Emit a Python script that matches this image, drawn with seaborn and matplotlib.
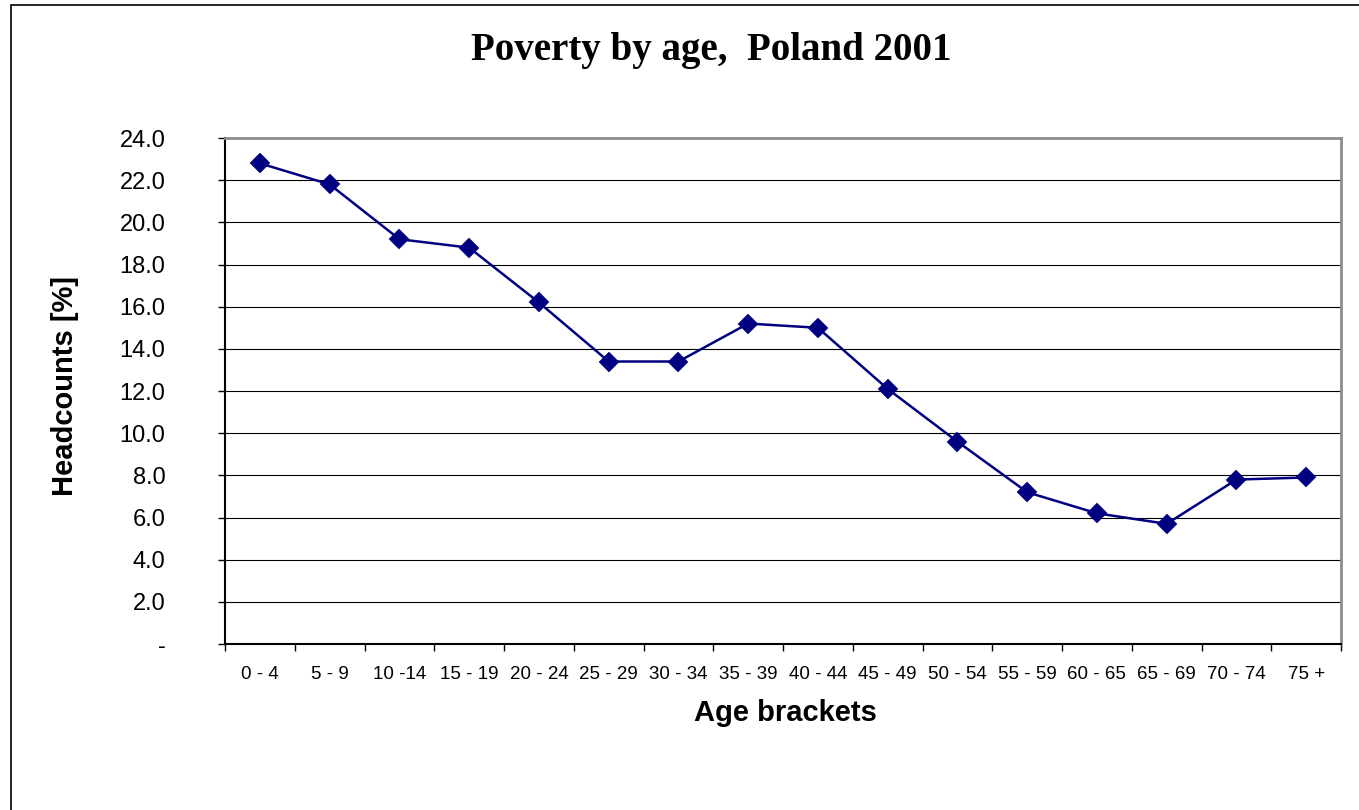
import numpy as np
import pandas as pd
import matplotlib
matplotlib.use("Agg")
import matplotlib.pyplot as plt
from matplotlib.patches import Rectangle
from matplotlib.ticker import FixedLocator
import seaborn as sns

# data
age_brackets = ["0 - 4", "5 - 9", "10 -14", "15 - 19", "20 - 24", "25 - 29",
                "30 - 34", "35 - 39", "40 - 44", "45 - 49", "50 - 54", "55 - 59",
                "60 - 65", "65 - 69", "70 - 74", "75 +"]
headcounts = [22.8, 21.8, 19.2, 18.8, 16.2, 13.4, 13.4, 15.2, 15.0, 12.1,
              9.6, 7.2, 6.2, 5.7, 7.8, 7.9]
y_ticks = [0, 2, 4, 6, 8, 10, 12, 14, 16, 18, 20, 22, 24]
y_tick_labels = ["-", "2.0", "4.0", "6.0", "8.0", "10.0", "12.0", "14.0",
                 "16.0", "18.0", "20.0", "22.0", "24.0"]

sns.set_style("white")
plt.rcParams["font.family"] = ["Liberation Sans", "DejaVu Sans"]
plt.rcParams["text.color"] = "black"
plt.rcParams["axes.labelcolor"] = "black"

df = pd.DataFrame({"age": age_brackets, "headcount": headcounts})

fig = plt.figure(figsize=(13.59, 8.10), dpi=100)
ax = fig.add_axes([0.1656, 0.2049, 0.8212, 0.6247])

sns.pointplot(data=df, x="age", y="headcount", ax=ax, color="#000080",
              markers="D", markersize=9, linewidth=1.8, errorbar=None)

ax.set_xlim(-0.5, 15.5)
ax.set_ylim(0, 24)
ax.set_yticks(y_ticks)
ax.set_yticklabels(y_tick_labels)

# horizontal gridlines only
ax.yaxis.grid(True, color="black", linewidth=0.8)
ax.xaxis.grid(False)
ax.set_axisbelow(True)

# ticks: y outward, x ticks between categories
ax.tick_params(axis="y", left=True, length=5, width=1, color="black",
               direction="out", pad=38, labelsize=17, labelcolor="black")
ax.tick_params(axis="x", which="major", bottom=True, length=0, pad=16,
               labelsize=13.5, labelcolor="black")
ax.xaxis.set_minor_locator(FixedLocator(np.arange(-0.5, 16, 1)))
ax.tick_params(axis="x", which="minor", bottom=True, length=5, width=1,
               color="black", direction="out")

for side in ["left", "bottom"]:
    ax.spines[side].set_color("black")
    ax.spines[side].set_linewidth(1.5)
for side in ["top", "right"]:
    ax.spines[side].set_color("#8c8c8c")
    ax.spines[side].set_linewidth(2)

ax.set_xlabel("Age brackets", fontsize=21, fontweight="bold", va="center")
ax.xaxis.set_label_coords(0.502, -0.136)
ax.set_ylabel("Headcounts [%]", fontsize=21, fontweight="bold", va="center")
ax.yaxis.set_label_coords(-0.143, 0.51)

fig.suptitle("Poverty by age,  Poland 2001", x=0.523, y=0.938, va="center",
             fontsize=28, fontweight="bold", family="Liberation Serif")

# chart frame
fig.add_artist(Rectangle((11 / 1359, -0.1), 1.2, 1.1 - 5 / 810, fill=False,
                         edgecolor="black", linewidth=1.2,
                         transform=fig.transFigure))

fig.savefig("out.png", dpi=100)
